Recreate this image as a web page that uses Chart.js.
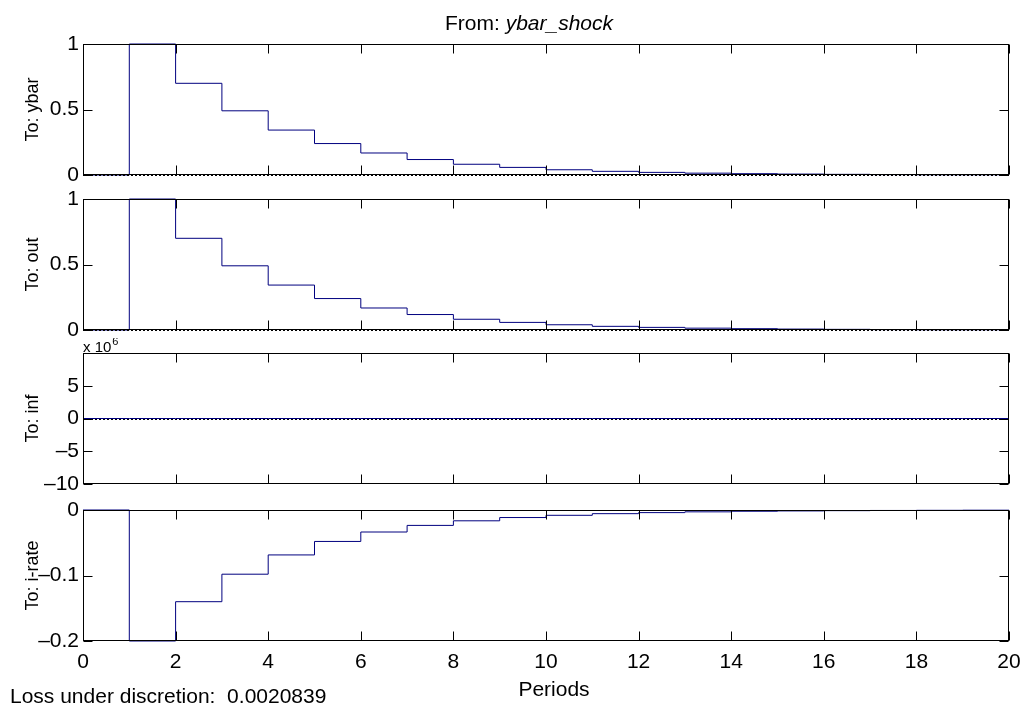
<!DOCTYPE html>
<html lang="en">
<head>
    <meta charset="UTF-8">
    <title>Impulse response: ybar_shock</title>
    <script src="https://cdn.jsdelivr.net/npm/chart.js"></script>
    <style>
        body {
            margin: 0;
            padding: 0;
            background: #ffffff;
            font-family: 'Liberation Sans', Arial, sans-serif;
        }

        .figure {
            position: relative;
            width: 1025px;
            height: 703px;
            overflow: hidden;
            background: #ffffff;
        }

        .figure canvas {
            position: absolute;
            left: 0;
        }
    </style>
</head>
<body>
    <div class="figure">
        <canvas id="pYbar" width="1025" height="186" style="top:0px"></canvas>
        <canvas id="pOut" width="1025" height="152" style="top:186px"></canvas>
        <canvas id="pInf" width="1025" height="157" style="top:338px"></canvas>
        <canvas id="pRate" width="1025" height="208" style="top:495px"></canvas>
    </div>

    <script>
        // periods 0..20, one value per period (stairs)
        const periods = [0, 1, 2, 3, 4, 5, 6, 7, 8, 9, 10, 11, 12, 13, 14, 15, 16, 17, 18, 19, 20];
        const ybarResp = [0, 1, 0.7, 0.49, 0.343, 0.24, 0.168, 0.118, 0.082, 0.058, 0.04, 0.028, 0.02, 0.014, 0.01, 0.007, 0.005, 0.003, 0.002, 0.002, 0.001];
        const outResp = [0, 1, 0.7, 0.49, 0.343, 0.24, 0.168, 0.118, 0.082, 0.058, 0.04, 0.028, 0.02, 0.014, 0.01, 0.007, 0.005, 0.003, 0.002, 0.002, 0.001];
        const infResp = [0, 0, 0, 0, 0, 0, 0, 0, 0, 0, 0, 0, 0, 0, 0, 0, 0, 0, 0, 0, 0]; // x 10^6
        const rateResp = [0, -0.2, -0.14, -0.098, -0.0686, -0.048, -0.0336, -0.0235, -0.0165, -0.0115, -0.0081, -0.0056, -0.004, -0.0028, -0.0019, -0.0014, -0.001, -0.0007, -0.0005, -0.0003, -0.0002];

        const xTicks = [0, 2, 4, 6, 8, 10, 12, 14, 16, 18, 20];
        const yTicksUnit = [0, 0.5, 1];
        const yLabelsUnit = ['0', '0.5', '1'];
        const yTicksInf = [-10, -5, 0, 5, 10];
        const yLabelsInf = ['\u201310', '\u20135', '0', '5', ''];
        const yTicksRate = [-0.2, -0.1, 0];
        const yLabelsRate = ['\u20130.2', '\u20130.1', '0'];

        const FONT = "'Liberation Sans', Arial, sans-serif";
        const LINE = '#00007f';
        const TICK = 9;

        // boxed axes with inward ticks on all four sides, plus dotted zero line
        const boxAxes = {
            id: 'boxAxes',
            afterDatasetsDraw(chart) {
                const { ctx, chartArea: a, scales } = chart;
                const x = scales.x, y = scales.y;
                ctx.save();
                // zero reference line
                const y0 = Math.round(y.getPixelForValue(0)) + 0.5;
                ctx.strokeStyle = '#000';
                ctx.lineWidth = 1;
                ctx.setLineDash([2, 2]);
                ctx.beginPath();
                ctx.moveTo(a.left, y0);
                ctx.lineTo(a.right, y0);
                ctx.stroke();
                ctx.setLineDash([]);

                const L = Math.round(a.left) + 0.5, R = Math.round(a.right) - 0.5;
                const T = Math.round(a.top) + 0.5, B = Math.round(a.bottom) - 0.5;
                ctx.beginPath();
                x.ticks.forEach(t => {
                    const px = Math.round(x.getPixelForValue(t.value)) + 0.5;
                    ctx.moveTo(px, T); ctx.lineTo(px, T + TICK);
                    ctx.moveTo(px, B); ctx.lineTo(px, B - TICK);
                });
                y.ticks.forEach(t => {
                    const py = Math.round(y.getPixelForValue(t.value)) + 0.5;
                    ctx.moveTo(L, py); ctx.lineTo(L + TICK, py);
                    ctx.moveTo(R, py); ctx.lineTo(R - TICK, py);
                });
                ctx.stroke();
                ctx.strokeRect(L, T, R - L, B - T);
                ctx.restore();
            },
            afterDraw(chart, args, opts) {
                if (opts.draw) opts.draw(chart.ctx, chart);
            }
        };

        function makePanel(id, values, yTicks, yLabels, yTitle, padding, showX, extra) {
            const ctx = document.getElementById(id).getContext('2d');
            return new Chart(ctx, {
                type: 'line',
                data: {
                    datasets: [{
                        data: periods.map((p, i) => ({ x: p, y: values[i] })),
                        stepped: true,
                        borderColor: LINE,
                        borderWidth: 1,
                        pointRadius: 0,
                        fill: false,
                        clip: false
                    }]
                },
                options: {
                    responsive: false,
                    animation: false,
                    devicePixelRatio: 1,
                    layout: { padding: { left: 0, right: 16, top: padding[0], bottom: padding[1] } },
                    plugins: {
                        legend: { display: false },
                        tooltip: { enabled: false },
                        boxAxes: { draw: extra }
                    },
                    scales: {
                        x: {
                            type: 'linear',
                            min: 0,
                            max: 20,
                            display: showX,
                            afterBuildTicks: s => { s.ticks = xTicks.map(v => ({ value: v })); },
                            afterFit: s => {
                                s.height = showX ? 62 : 0;
                                s.paddingLeft = 0;
                                s.paddingRight = 0;
                            },
                            grid: { display: false, drawTicks: false },
                            border: { display: false },
                            ticks: {
                                color: '#000',
                                font: { family: FONT, size: 21 },
                                padding: 9,
                                maxRotation: 0,
                                autoSkip: false,
                                callback: v => String(v)
                            }
                        },
                        y: {
                            type: 'linear',
                            min: yTicks[0],
                            max: yTicks[yTicks.length - 1],
                            afterBuildTicks: s => { s.ticks = yTicks.map(v => ({ value: v })); },
                            afterFit: s => {
                                s.width = 83;
                                s.paddingTop = 0;
                                s.paddingBottom = 0;
                            },
                            grid: { display: false, drawTicks: false },
                            border: { display: false },
                            ticks: {
                                color: '#000',
                                font: { family: FONT, size: 21 },
                                padding: 4,
                                autoSkip: false,
                                callback: (v, i) => yLabels[i]
                            },
                            title: {
                                display: true,
                                text: yTitle,
                                color: '#000',
                                font: { family: FONT, size: 18 },
                                padding: { top: 22, bottom: 0 }
                            }
                        }
                    }
                },
                plugins: [boxAxes]
            });
        }

        makePanel('pYbar', ybarResp, yTicksUnit, yLabelsUnit, 'To: ybar', [44, 11], false, (ctx) => {
            ctx.save();
            ctx.fillStyle = '#000';
            ctx.textBaseline = 'alphabetic';
            ctx.font = '21px ' + FONT;
            const a = 'From: ';
            const wa = ctx.measureText(a).width;
            ctx.font = 'italic 21px ' + FONT;
            const b = 'ybar_shock';
            const wb = ctx.measureText(b).width;
            const x0 = 529 - (wa + wb) / 2;
            ctx.font = '21px ' + FONT;
            ctx.fillText(a, x0, 30);
            ctx.font = 'italic 21px ' + FONT;
            ctx.fillText(b, x0 + wa, 30);
            ctx.restore();
        });

        makePanel('pOut', outResp, yTicksUnit, yLabelsUnit, 'To: out', [13, 8], false);

        makePanel('pInf', infResp, yTicksInf, yLabelsInf, 'To: inf', [15, 11], false, (ctx) => {
            ctx.save();
            ctx.fillStyle = '#000';
            ctx.font = '15px ' + FONT;
            ctx.fillText('x 10', 83, 14);
            const w = ctx.measureText('x 10').width;
            ctx.font = '11px ' + FONT;
            ctx.fillText('6', 83 + w + 1, 7);
            ctx.restore();
        });

        makePanel('pRate', rateResp, yTicksRate, yLabelsRate, 'To: i-rate', [15, 0], true, (ctx) => {
            ctx.save();
            ctx.fillStyle = '#000';
            ctx.font = '21px ' + FONT;
            ctx.textAlign = 'center';
            ctx.fillText('Periods', 554, 201);
            ctx.textAlign = 'left';
            ctx.fillText('Loss under discretion:  0.0020839', 10, 208);
            ctx.restore();
        });
    </script>
</body>
</html>
